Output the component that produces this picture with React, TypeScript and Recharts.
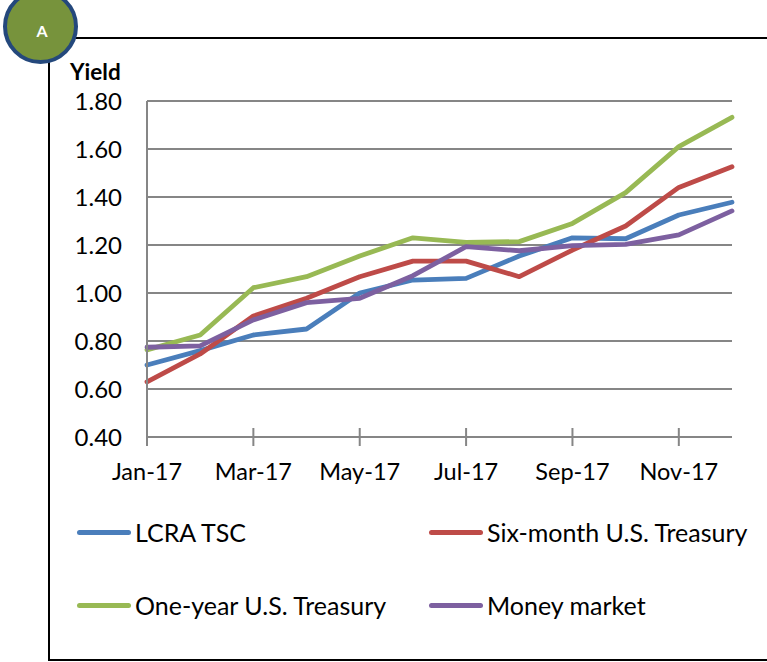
import React from 'react';
import { LineChart, Line, XAxis, YAxis, CartesianGrid } from 'recharts';

const months = ['Jan-17', 'Feb-17', 'Mar-17', 'Apr-17', 'May-17', 'Jun-17', 'Jul-17', 'Aug-17', 'Sep-17', 'Oct-17', 'Nov-17', 'Dec-17'];
const lcraTsc = [0.70, 0.76, 0.825, 0.85, 1.0, 1.054, 1.061, 1.154, 1.23, 1.226, 1.325, 1.378];
const sixMonth = [0.63, 0.746, 0.904, 0.978, 1.068, 1.133, 1.133, 1.068, 1.179, 1.279, 1.44, 1.526];
const oneYear = [0.763, 0.825, 1.022, 1.068, 1.154, 1.23, 1.211, 1.214, 1.29, 1.418, 1.61, 1.732];
const moneyMarket = [0.774, 0.78, 0.888, 0.96, 0.978, 1.072, 1.193, 1.176, 1.197, 1.203, 1.242, 1.342];
const yTicks = [0.4, 0.6, 0.8, 1.0, 1.2, 1.4, 1.6, 1.8];
const xTickLabels = ['Jan-17', 'Mar-17', 'May-17', 'Jul-17', 'Sep-17', 'Nov-17'];

const series = [
  { key: 'lcra', name: 'LCRA TSC', values: lcraTsc, color: '#4A7EBB' },
  { key: 'six', name: 'Six-month U.S. Treasury', values: sixMonth, color: '#BE4B48' },
  { key: 'one', name: 'One-year U.S. Treasury', values: oneYear, color: '#98B954' },
  { key: 'mm', name: 'Money market', values: moneyMarket, color: '#7D60A0' },
];

const data = months.map((m, i) => {
  const row: Record<string, any> = { month: m };
  series.forEach((s) => { row[s.key] = s.values[i]; });
  return row;
});

const FONT = 'Lato, "Open Sans", sans-serif';

const XTick = (props: any) => {
  const { x, y, payload } = props;
  const show = xTickLabels.includes(payload.value);
  if (!show) return null;
  return (
    <g>
      <line x1={x} x2={x} y1={y - 9} y2={y + 9} stroke="#868686" strokeWidth={2} />
      <text x={x} y={y + 43} textAnchor="middle" fontFamily={FONT} fontSize={23.5} fill="#000">
        {payload.value}
      </text>
    </g>
  );
};

export default function App() {
  return (
    <div style={{ position: 'absolute', left: 0, top: 0, width: 767, height: 662, background: '#fff', overflow: 'hidden', fontFamily: FONT }}>
      {/* frame */}
      <div style={{ position: 'absolute', left: 48, top: 37, width: 740, height: 620, borderLeft: '2px solid #000', borderTop: '2px solid #000', borderBottom: '2px solid #000' }} />
      {/* badge */}
      <div style={{ position: 'absolute', left: 3, top: -11, width: 67, height: 67, borderRadius: '50%', background: '#77933C', border: '4px solid #24487C', display: 'flex', alignItems: 'center', justifyContent: 'center', color: '#fff', fontWeight: 700, fontSize: 16, fontFamily: FONT }}>
        <span style={{ marginTop: 7, marginLeft: 3 }}>A</span>
      </div>
      <div style={{ position: 'absolute', left: 70, top: 58, fontSize: 22.5, fontWeight: 700, color: '#000', fontFamily: FONT }}>Yield</div>
      <div style={{ position: 'absolute', left: 0, top: 0 }}>
        <LineChart width={767} height={662} data={data} margin={{ top: 101, right: 35, left: 0, bottom: 185 }}>
          <CartesianGrid horizontal vertical={false} stroke="#868686" strokeWidth={2} />
          <XAxis
            dataKey="month"
            interval={0}
            tickSize={0}
            tickMargin={0}
            height={40}
            tick={<XTick />}
            axisLine={{ stroke: '#868686', strokeWidth: 2 }}
            tickLine={false}
            padding={{ left: 0, right: 0 }}
          />
          <YAxis
            width={147}
            domain={[0.4, 1.8]}
            ticks={yTicks}
            tickFormatter={(v: number) => v.toFixed(2)}
            tickSize={0}
            tickMargin={25}
            tickLine={false}
            axisLine={{ stroke: '#868686', strokeWidth: 2 }}
            tick={{ fontFamily: FONT, fontSize: 24, fill: '#000' }}
            allowDataOverflow
          />
          {series.map((s) => (
            <Line
              key={s.key}
              type="linear"
              dataKey={s.key}
              name={s.name}
              stroke={s.color}
              strokeWidth={4.8}
              strokeLinecap="round"
              strokeLinejoin="round"
              dot={false}
              activeDot={false}
              isAnimationActive={false}
            />
          ))}
        </LineChart>
      </div>
      {/* legend */}
      {series.map((s, i) => {
        const col = i % 2;
        const row = Math.floor(i / 2);
        const lx = col === 0 ? 77 : 429;
        const ly = row === 0 ? 532 : 605;
        return (
          <div key={s.key} style={{ position: 'absolute', left: lx, top: ly - 15, height: 30, display: 'flex', alignItems: 'center', whiteSpace: 'nowrap' }}>
            <div style={{ width: 54, height: 5, borderRadius: 3, background: s.color, marginRight: 4 }} />
            <span style={{ fontSize: 25, color: '#000', fontFamily: FONT }}>{s.name}</span>
          </div>
        );
      })}
    </div>
  );
}
